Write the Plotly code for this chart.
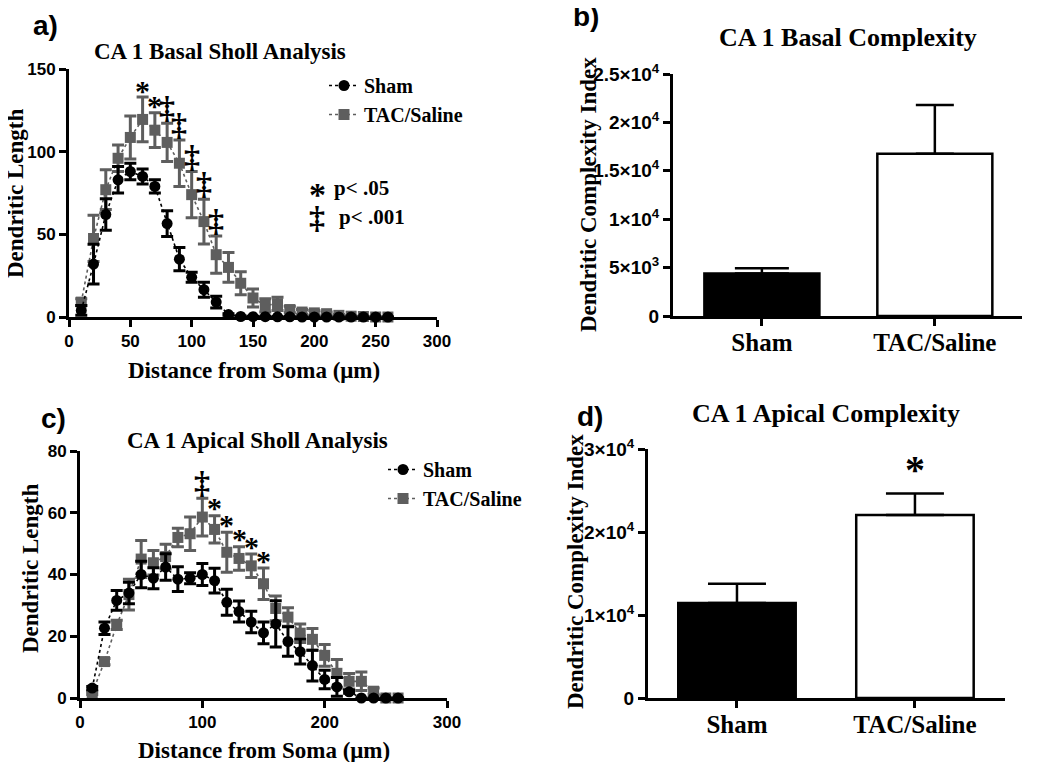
import plotly.graph_objects as go

# ---------------- data ----------------
distance = [10, 20, 30, 40, 50, 60, 70, 80, 90, 100, 110, 120, 130,
            140, 150, 160, 170, 180, 190, 200, 210, 220, 230, 240, 250, 260]

basal_sham_mean = [4, 32, 62, 83, 88, 85, 79, 56.5, 35, 24, 16.5, 9, 1.5,
                   0.3, 0.2, 0.2, 0.1, 0.1, 0, 0, 0, 0, 0, 0, 0, 0]
basal_sham_sem = [3, 12, 9.5, 8, 5, 4.5, 4, 7.8, 7, 3, 4.5, 3.5, 0.5,
                  0.3, 0.3, 0.3, 0.2, 0.2, 0, 0, 0, 0, 0, 0, 0, 0]
basal_tac_mean = [9, 47.5, 77, 96, 108.6, 119.5, 113, 105.6, 93, 74, 57.7, 37.7, 30,
                  20.4, 11.5, 7, 8, 4.5, 3, 2.5, 2, 1, 0.5, 0.3, 0, 0]
basal_tac_sem = [2, 14, 12, 8, 13, 13.5, 10.5, 11.6, 14, 14, 13.5, 11.3, 9,
                 7, 5.5, 4, 4, 2, 1.5, 1.5, 1, 0.5, 0.3, 0.2, 0, 0]

apical_sham_mean = [3.2, 22.6, 31.6, 34, 40, 38.8, 42.4, 38.5, 38.8, 40, 38, 31, 28,
                    24.6, 21.1, 24, 18.3, 15, 10.5, 6, 3.6, 2, 0, 0, 0, 0]
apical_sham_sem = [0.5, 2, 3.2, 3.5, 4.3, 3.4, 4.3, 4, 1.8, 3.6, 4, 4.2, 3.4,
                   3.5, 3.5, 7.5, 4.8, 4, 5, 3, 3, 0.5, 0, 0, 0, 0]
apical_tac_mean = [1.6, 11.8, 23.7, 33.5, 45, 43.8, 45.8, 52, 53.2, 58.6, 54.6, 47.2, 45.2,
                   42.8, 37, 29, 26.2, 21, 19, 13.8, 8, 5.4, 5.4, 2.2, 0, 0]
apical_tac_sem = [0.5, 1, 1.5, 5, 6, 4, 4, 3, 5.4, 6.1, 4.4, 6.5, 3.8,
                  3.8, 5.1, 4, 3, 3, 3.5, 3.5, 4.5, 2.5, 3, 1, 0, 0]

basal_sig_x = [60, 70, 80, 90, 100, 110, 120]
basal_sig_mark = ["*", "*", "‡", "‡", "‡", "‡", "‡"]
apical_sig_x = [100, 110, 120, 130, 140, 150]
apical_sig_mark = ["‡", "*", "*", "*", "*", "*"]

groups = ["Sham", "TAC/Saline"]
basal_index_mean = [4400, 16750]
basal_index_sem = [530, 5050]
apical_index_mean = [11450, 22050]
apical_index_sem = [2300, 2580]
apical_index_sig = ["", "*"]

basal_ticks = [0, 5000, 10000, 15000, 20000, 25000]
basal_ticktext = ["0", "5×10<sup>3</sup>", "1×10<sup>4</sup>", "1.5×10<sup>4</sup>",
                  "2×10<sup>4</sup>", "2.5×10<sup>4</sup>"]
apical_ticks = [0, 10000, 20000, 30000]
apical_ticktext = ["0", "1×10<sup>4</sup>", "2×10<sup>4</sup>", "3×10<sup>4</sup>"]

# ---------------- style ----------------
W, H = 1050, 762
OFF = 8  # the page body margin shifts the figure by this many pixels
SERIF = "Liberation Serif"
SANS = "Liberation Sans"
GRAY = "#5e5e5e"
BLACK = "#000000"


def px(x):
    return (x - OFF) / W


def py(y):
    return 1 - (y - OFF) / H


fig = go.Figure()


def add_sholl(xa, ya, legend, means, sems):
    specs = [("TAC/Saline", means[1], sems[1], GRAY, "square", 2),
             ("Sham", means[0], sems[0], BLACK, "circle", 1)]
    for name, m, s, col, sym, rank in specs:
        fig.add_trace(go.Scatter(
            x=distance, y=m, mode="lines+markers", name=name,
            line=dict(color=col, width=1.6, dash="dot"),
            marker=dict(symbol=sym, size=11, color=col),
            error_y=dict(type="data", array=s, color=col, thickness=3, width=6),
            xaxis=xa, yaxis=ya, cliponaxis=False, legend=legend,
            legendgroup=legend + name, legendrank=rank))


add_sholl("x", "y", "legend", (basal_sham_mean, basal_tac_mean), (basal_sham_sem, basal_tac_sem))
add_sholl("x3", "y3", "legend2", (apical_sham_mean, apical_tac_mean), (apical_sham_sem, apical_tac_sem))

group_pos = list(range(len(groups)))


def add_bars(xa, ya, means, sems, caps, width):
    fills = [BLACK, "white"]
    for p, m, s, f, c in zip(group_pos, means, sems, fills, caps):
        fig.add_trace(go.Bar(
            x=[p], y=[m], width=width, showlegend=False,
            marker=dict(color=f, line=dict(color=BLACK, width=2.5)),
            error_y=dict(type="data", symmetric=False, array=[s], arrayminus=[0],
                         color=BLACK, thickness=2.5, width=c),
            xaxis=xa, yaxis=ya, cliponaxis=False))


add_bars("x2", "y2", basal_index_mean, basal_index_sem, [27, 19], 0.665)
add_bars("x4", "y4", apical_index_mean, apical_index_sem, [29, 29], 0.66)

axis_common = dict(showline=True, linecolor=BLACK, linewidth=3, ticks="outside",
                   ticklen=7, tickwidth=2.5, tickcolor=BLACK, showgrid=False,
                   zeroline=False, mirror=False, automargin=False)
tick_sans = dict(family=SANS, size=17, color=BLACK, weight="bold")
tick_sans_sm = dict(family=SANS, size=19, color=BLACK, weight="bold")
tick_serif = dict(family=SERIF, size=25, color=BLACK, weight="bold")

fig.update_layout(
    width=W, height=H, margin=dict(l=0, r=0, t=0, b=0, pad=0, autoexpand=False),
    paper_bgcolor="white", plot_bgcolor="white", barmode="overlay",
    xaxis=dict(domain=[px(69), px(437)], range=[0, 300], dtick=50, anchor="y",
               tickfont=tick_sans, **axis_common),
    yaxis=dict(domain=[py(317), py(69)], range=[0, 150], dtick=50, anchor="x",
               tickfont=tick_sans, **axis_common),
    xaxis3=dict(domain=[px(80), px(447)], range=[0, 300], dtick=100, anchor="y3",
                tickfont=tick_sans, **axis_common),
    yaxis3=dict(domain=[py(698), py(451)], range=[0, 80], dtick=20, anchor="x3",
                tickfont=tick_sans, **axis_common),
    xaxis2=dict(domain=[px(673), px(1022)], range=[-0.514, 1.504],
                tickvals=group_pos, ticktext=groups, ticklabelstandoff=-5,
                anchor="y2", tickfont=tick_serif, **axis_common),
    yaxis2=dict(domain=[py(316), py(74)], range=[0, 25000], tickvals=basal_ticks,
                ticktext=basal_ticktext, anchor="x2", tickfont=tick_sans_sm, **axis_common),
    xaxis4=dict(domain=[px(648), px(1005)], range=[-0.5, 1.506],
                tickvals=group_pos, ticktext=groups, ticklabelstandoff=-5,
                anchor="y4", tickfont=tick_serif, **axis_common),
    yaxis4=dict(domain=[py(698), py(449)], range=[0, 30000], tickvals=apical_ticks,
                ticktext=apical_ticktext, anchor="x4", tickfont=tick_sans_sm, **axis_common),
    legend=dict(x=px(324), y=py(66), xanchor="left", yanchor="top",
                font=dict(family=SERIF, size=20, color=BLACK, weight="bold"),
                bgcolor="rgba(0,0,0,0)", traceorder="grouped", tracegroupgap=0),
    legend2=dict(x=px(383), y=py(450), xanchor="left", yanchor="top",
                 font=dict(family=SERIF, size=20, color=BLACK, weight="bold"),
                 bgcolor="rgba(0,0,0,0)", traceorder="grouped", tracegroupgap=0),
)

ann = []


def text(x, y, s, size, family=SERIF, bold=True, xanchor="center", angle=0):
    ann.append(dict(x=px(x), y=py(y), xref="paper", yref="paper", text=s, showarrow=False,
                    xanchor=xanchor, yanchor="middle", textangle=angle,
                    font=dict(family=family, size=size, color=BLACK,
                              weight="bold" if bold else "normal")))


# panel letters
text(45, 26, "a)", 28, SANS)
text(586, 17, "b)", 28, SANS)
text(53, 418, "c)", 28, SANS)
text(590, 416, "d)", 28, SANS)
# titles
text(220, 52, "CA 1 Basal Sholl Analysis", 23)
text(848, 37, "CA 1 Basal Complexity", 26)
text(257, 440, "CA 1 Apical Sholl Analysis", 23)
text(826, 413, "CA 1 Apical Complexity", 26)
# axis titles
text(16, 193, "Dendritic Length", 23, angle=-90)
text(30, 568, "Dendritic Length", 23, angle=-90)
text(254, 370, "Distance from Soma (μm)", 23)
text(264, 750, "Distance from Soma (μm)", 23)
text(589, 195, "Dendritic Complexity Index", 23, angle=-90)
text(575, 572, "Dendritic Complexity Index", 23, angle=-90)
# p-value key
text(317, 194, "*", 34)
text(332, 188, "p< .05", 21, xanchor="left")
text(317, 217, "‡", 32)
text(337, 217, "p< .001", 21, xanchor="left")


def sig(xa, ya, xs, marks, means, sems, shift_star, shift_dd, size_star, size_dd):
    for xv, mk in zip(xs, marks):
        i = distance.index(xv)
        top = means[i] + sems[i]
        star = mk == "*"
        ann.append(dict(x=xv, y=top, xref=xa, yref=ya, text=mk, showarrow=False,
                        xanchor="center", yanchor="middle",
                        yshift=shift_star if star else shift_dd,
                        font=dict(family=SERIF, size=size_star if star else size_dd,
                                  color=BLACK, weight="bold")))


sig("x", "y", basal_sig_x, basal_sig_mark, basal_tac_mean, basal_tac_sem, 7, 16, 30, 32)
sig("x3", "y3", apical_sig_x, apical_sig_mark, apical_tac_mean, apical_tac_sem, 8, 16, 30, 32)

for p, m, s, mk in zip(group_pos, apical_index_mean, apical_index_sem, apical_index_sig):
    if mk:
        ann.append(dict(x=p, y=m + s, xref="x4", yref="y4", text=mk, showarrow=False,
                        xanchor="center", yanchor="middle", yshift=24,
                        font=dict(family=SERIF, size=40, color=BLACK, weight="bold")))

fig.update_layout(annotations=ann)
fig.write_html("out.html")
